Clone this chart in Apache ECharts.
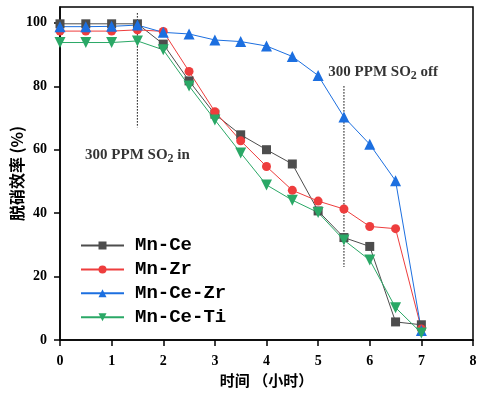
<!DOCTYPE html>
<html>
<head>
<meta charset="utf-8">
<script src="https://cdn.jsdelivr.net/npm/echarts@6/dist/echarts.min.js"></script>
<style>
  html, body { margin: 0; padding: 0; background: #fff; }
  #chart { width: 485px; height: 397px; }
</style>
</head>
<body>
<div id="chart"></div>
<script>
// time in hours
var timeHours = [0, 0.5, 1, 1.5, 2, 2.5, 3, 3.5, 4, 4.5, 5, 5.5, 6, 6.5, 7];
var mnCe = [99.7, 99.7, 99.7, 99.7, 93.3, 81.7, 71.2, 64.7, 60.0, 55.5, 40.7, 32.3, 29.5, 5.7, 4.8];
var mnZr = [97.4, 97.4, 97.4, 97.8, 97.3, 84.7, 72.0, 62.8, 54.7, 47.2, 43.8, 41.3, 35.8, 35.1, 3.5];
var mnCeZr = [98.8, 98.8, 98.9, 99.3, 97.0, 96.5, 94.6, 94.1, 92.7, 89.4, 83.4, 70.3, 61.7, 50.2, 3.0];
var mnCeTi = [93.8, 93.8, 93.8, 94.3, 91.5, 80.1, 69.4, 59.0, 48.9, 44.1, 40.2, 31.5, 25.2, 10.2, 2.2];

var seriesNames = ["Mn-Ce", "Mn-Zr", "Mn-Ce-Zr", "Mn-Ce-Ti"];
var yTicks = [0, 20, 40, 60, 80, 100];

// dotted marker lines: [x, yTop, yBottom]
var soInLine = [1.5, 103, 67];
var soOffLine = [5.5, 80, 23];
// annotation text anchors: [x, y, suffix]
var notes = [[1.5, 58.4, " in"], [6.26, 84.6, " off"]];

function pairs(ys) {
  var out = [];
  for (var i = 0; i < timeHours.length; i++) out.push([timeHours[i], ys[i]]);
  return out;
}

var dom = echarts.init(document.getElementById("chart"));
var serif = "'Liberation Serif', 'Times New Roman', serif";
var cjk = "'Noto Sans CJK SC', sans-serif";

var lineSeries = function (name, ys, color, symbol, size, rotate) {
  return {
    name: name,
    type: "line",
    data: pairs(ys),
    symbol: symbol,
    symbolSize: size,
    symbolRotate: rotate || 0,
    itemStyle: { color: color },
    lineStyle: { color: color, width: 1 },
    z: 3,
  };
};

var option = {
  animation: false,
  backgroundColor: "#fff",
  grid: {
    left: 60,
    right: 12,
    top: 7,
    bottom: 57,
    outerBoundsMode: "none",
    show: true,
    borderColor: "#000",
    borderWidth: 1.5,
  },
  legend: {
    data: seriesNames,
    orient: "vertical",
    left: 80,
    top: 231,
    padding: [5, 0, 5, 0],
    itemWidth: 43,
    itemHeight: 10,
    itemGap: 4.9,
    textStyle: {
      fontFamily: "'Liberation Mono', monospace",
      fontWeight: "bold",
      fontSize: 19,
      color: "#000",
      padding: [0, 0, 0, 6],
    },
  },
  xAxis: {
    type: "value",
    min: 0,
    max: 8,
    interval: 1,
    name: "时间 （小时）",
    nameLocation: "middle",
    nameGap: 33,
    nameMoveOverlap: false,
    nameTextStyle: { fontFamily: cjk, fontWeight: "bold", fontSize: 15, color: "#000" },
    axisLine: { lineStyle: { color: "#000", width: 1.5 } },
    axisTick: { inside: false, length: 6, lineStyle: { color: "#000", width: 1.5 } },
    axisLabel: { margin: 14, fontFamily: serif, fontWeight: "bold", fontSize: 14, color: "#000" },
    splitLine: { show: false },
  },
  yAxis: {
    type: "value",
    min: 0,
    max: 105,
    interval: 20,
    name: "脱硝效率 (%)",
    nameLocation: "middle",
    nameGap: 35,
    nameMoveOverlap: false,
    nameTextStyle: { fontFamily: cjk, fontWeight: "bold", fontSize: 16, color: "#000" },
    axisLine: { lineStyle: { color: "#000", width: 1.5 } },
    axisTick: { inside: false, length: 6, customValues: yTicks, lineStyle: { color: "#000", width: 1.5 } },
    axisLabel: { margin: 13, customValues: yTicks, fontFamily: serif, fontWeight: "bold", fontSize: 14, color: "#000" },
    splitLine: { show: false },
  },
  series: [
    lineSeries("Mn-Ce", mnCe, "#4d4d4d", "rect", 9),
    lineSeries("Mn-Zr", mnZr, "#ee3d3d", "circle", 9),
    lineSeries("Mn-Ce-Zr", mnCeZr, "#1c6fe0", "triangle", 11),
    lineSeries("Mn-Ce-Ti", mnCeTi, "#2aa866", "triangle", 11, 180),
    {
      type: "line",
      data: [[soInLine[0], soInLine[1]], [soInLine[0], soInLine[2]]],
      symbol: "none",
      lineStyle: { color: "#000", width: 1.2, type: [1.2, 1.8] },
      z: 1,
      silent: true,
    },
    {
      type: "line",
      data: [[soOffLine[0], soOffLine[1]], [soOffLine[0], soOffLine[2]]],
      symbol: "none",
      lineStyle: { color: "#000", width: 1.2, type: [1.2, 1.8] },
      z: 1,
      silent: true,
    },
    {
      type: "scatter",
      data: notes,
      symbolSize: 0,
      silent: true,
      label: {
        show: true,
        position: "inside",
        color: "#000",
        formatter: function (p) {
          return "{a|300 PPM SO}{s|2}{a|" + p.value[2] + "}";
        },
        rich: {
          a: { fontFamily: serif, fontWeight: "bold", fontSize: 15, color: "#000" },
          s: { fontFamily: serif, fontWeight: "bold", fontSize: 12, color: "#000", padding: [9, 0, 0, 0] },
        },
      },
      z: 5,
    },
  ],
};

dom.setOption(option);
window.addEventListener("resize", function () { dom.resize(); });
</script>
</body>
</html>
